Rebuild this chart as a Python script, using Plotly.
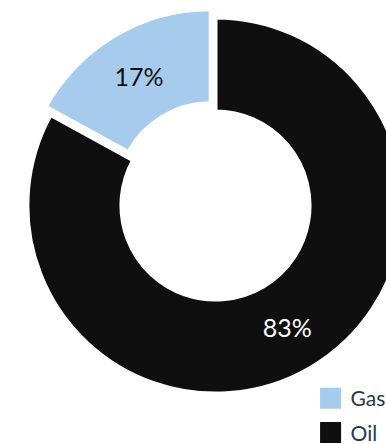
import plotly.graph_objects as go

# Share of production by fuel type
labels = ["Gas", "Oil"]
values = [17, 83]
colors = ["#a7cbec", "#0f0f0f"]
pulls = [0.05, 0]
text_colors = ["#111111", "#ffffff"]

FONT = "Lato"

# Start the first slice so that it ends at 12 o'clock (sweeping clockwise)
start_angle = -360 * values[0] / sum(values)

fig = go.Figure()

fig.add_trace(go.Pie(
    labels=labels,
    values=values,
    hole=0.5,
    sort=False,
    direction="clockwise",
    rotation=start_angle,
    pull=pulls,
    marker=dict(colors=colors, line=dict(color="#ffffff", width=4)),
    texttemplate="%{percent:.0%}",
    textposition="inside",
    insidetextorientation="horizontal",
    insidetextfont=dict(family=FONT, size=25, color=text_colors),
    showlegend=False,
    hoverinfo="label+percent",
))

# Legend entries with large square swatches
for name, color in zip(labels, colors):
    fig.add_trace(go.Scatter(
        x=[None], y=[None],
        mode="markers",
        name=name,
        legendgroup=name,
        marker=dict(symbol="square", size=16, color=color,
                    line=dict(color=color, width=5)),
        hoverinfo="skip",
    ))

fig.update_layout(
    width=413,
    height=453,
    margin=dict(l=18, r=0, t=8, b=50, autoexpand=False),
    paper_bgcolor="#ffffff",
    plot_bgcolor="#ffffff",
    xaxis=dict(visible=False),
    yaxis=dict(visible=False),
    legend=dict(
        xref="container", yref="container",
        x=0.752, y=0.0, xanchor="left", yanchor="bottom",
        traceorder="grouped",
        tracegroupgap=4,
        itemsizing="trace",
        font=dict(family=FONT, size=21, color="#2d3748"),
        bgcolor="rgba(0,0,0,0)",
    ),
)

fig.write_html("out.html")
